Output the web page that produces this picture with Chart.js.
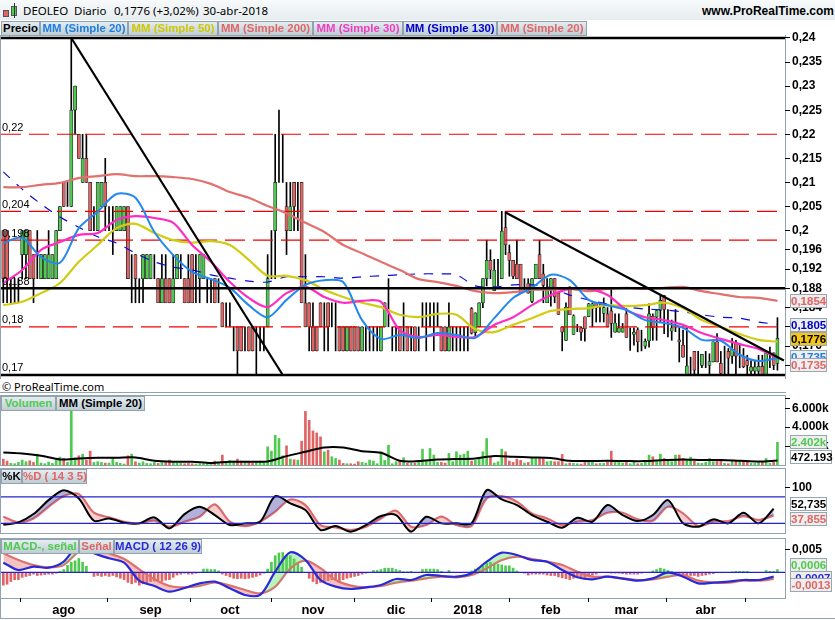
<!DOCTYPE html>
<html lang="es">
<head>
<meta charset="UTF-8" />
<title>DEOLEO Diario</title>
<script src="https://cdn.jsdelivr.net/npm/chart.js"></script>
<style>
  html, body { margin: 0; padding: 0; background: #fff; }
  body { position: relative; width: 835px; height: 620px; overflow: hidden; font-family: "Liberation Sans", Arial, sans-serif; }
  canvas { position: absolute; left: 0; }
  .abs { position: absolute; white-space: nowrap; }
  #header { left: 0; top: 0; width: 835px; height: 20px; background: linear-gradient(#f8fafb, #e6ecef); }
  .htxt { top: 3px; font: 11.5px "Noto Sans", sans-serif; color: #000; }
  .frame { border: 1px solid #93a3ad; box-sizing: border-box; left: 0; width: 786px; }
  .tab { height: 15px; box-sizing: border-box; border: 1px solid #93a3ad; background: linear-gradient(#e4edf1, #bfcdd5); font: bold 11.4px/13px "Liberation Sans", sans-serif; text-align: center; z-index: 5; }
  .tag { left: 790px; width: 37px; height: 14px; box-sizing: border-box; border: 1px solid #98a8b2; background: #eeeeee; font: bold 11.5px/12px "Liberation Sans", sans-serif; text-align: center; z-index: 6; }
</style>
</head>
<body>
<div id="header" class="abs"></div>
<div class="abs" style="left:3px;top:10px;width:6px;height:7px;background:#e06464;border:1px solid #555;box-sizing:border-box"></div>
<div class="abs" style="left:11px;top:6px;width:6px;height:10px;background:#4fc94f;border:1px solid #555;box-sizing:border-box"></div>
<div class="abs" style="left:13.5px;top:3px;width:1px;height:15px;background:#333"></div>
<div class="abs htxt" style="left:23px">DEOLEO</div>
<div class="abs htxt" style="left:74px">Diario</div>
<div class="abs htxt" style="left:114px">0,1776 (+3,02%)</div>
<div class="abs htxt" style="left:203px">30-abr-2018</div>
<div class="abs" style="left:702px;top:4px;font:bold 12px 'Liberation Sans',sans-serif">www.ProRealTime.com</div>
<div class="abs" style="left:2px;top:379px;font:11px 'Noto Sans',sans-serif">© ProRealTime.com</div>

<div class="abs frame" style="top:35px;height:344px;border-top:none;border-bottom:none"></div>
<div class="abs" style="left:0;top:392px;width:786px;height:1px;background:#93a3ad"></div>
<div class="abs frame" style="top:395px;height:71px"></div>
<div class="abs frame" style="top:468px;height:66px"></div>
<div class="abs frame" style="top:538px;height:61px"></div>
<div class="abs" style="left:0;top:618px;width:835px;height:1px;background:#93a3ad"></div>
<div class="abs" style="left:0;top:598px;width:1px;height:21px;background:#93a3ad"></div>

<canvas id="precio" width="835" height="350" style="top:28px"></canvas>
<canvas id="volumen" width="835" height="71" style="top:395px"></canvas>
<canvas id="esto" width="835" height="66" style="top:468px"></canvas>
<canvas id="macd" width="835" height="81" style="top:538px"></canvas>

<script>
// precios en milésimas de euro
const open = [200,200,190,190,190,195,195,200,195,195, 190,190,190,190,190,200,210,205,205,225,
  220,210,215,210,200,200,205,210,205,205, 200,200,200,205,195,195,190,190,190,190,
  195,190,185,190,190,185,190,190,190,190, 195,190,190,190,190,190,190,190,185,185,
  185,180,180,180,180,180,180,180,180,180, 180,200,200,210,210,205,200,210,205,210,
  185,185,180,180,185,180,185,185,180,180, 180,175,180,180,180,175,180,180,180,180,
  175,180,180,180,180,180,180,180,180,180, 180,180,180,185,180,185,180,180,175,180,
  180,180,180,180,183.8,178.8,180,185,190,193.8, 187.5,188.5,190,200.6,195.4,193.8,193,193,189,189,
  185.3,190,195,191,185,188,190,187,180,177.2, 188.3,178.4,180,179.8,182.1,182.1,183.8,185,184,182.8,
  182.7,183.3,178.9,178.9,178.9,182.7,178.6,178.4,179.4,178.5, 176,177.1,182.2,182,183.4,186.5,179.5,179.1,180,177.3,
  176.2,170,172,174.9,171,172,174,172,172.7,176.9, 172.4,173.5,174.9,173.9,176.8,175,173.9,173,170.8,170.8,
  170.8,171.8,170,173,174.6,172.4];
const close = [190,190,190,190,190,200,200,190,190,195, 195,195,195,195,200,205,205,205,225,230,
  215,215,210,200,200,210,210,205,205,205, 205,205,205,190,195,190,190,195,195,195,
  195,185,190,185,185,190,195,190,185,185, 185,190,195,195,190,190,185,190,180,185,
  185,180,175,175,180,175,175,180,180,180, 190,200,210,210,210,200,205,205,205,185,
  180,180,175,175,180,180,180,185,180,175, 175,180,175,175,175,180,180,180,180,180,
  180,185,180,180,180,175,180,175,180,175, 180,180,180,185,180,185,175,175,180,180,
  180,180,180,180,178.7,182.9,185,190,193.8,191.8, 191.8,188.5,199.9,197,193.8,190.5,190,187,189,187,
  190,193,190,188.6,188,190,186.2,182.6,178.9,184.1, 182.5,182.3,180,178.9,179.6,184.8,184.8,184,184,184,
  180,180.7,180.8,179.8,179.8,177.8,178.6,178.9,176.9,178.5, 177,182.7,179.8,183.4,185.5,183.6,179.5,179.8,180,176.9,
  173.7,171.9,172,171,171,174.3,174,172.8,176.9,172.7, 170.3,173.5,173.5,175.3,173.9,175,171.7,172,171.7,171.7,
  171.8,170,174.6,173,172,177.6];
const high = [200,200,190,190,190,200,200,200,195,200, 195,195,200,195,200,205,210,210,240,230,
  220,220,220,210,205,210,210,215,205,205, 205,205,205,205,195,195,190,195,195,195,
  195,190,195,195,190,195,195,195,190,195, 195,195,195,195,190,190,190,190,185,185,
  185,180,180,180,180,180,180,180,180,180, 195,200,220,225,220,210,210,210,210,210,
  195,185,185,180,185,185,185,185,185,180, 180,180,180,180,180,180,180,180,180,180,
  180,185,190,180,180,180,185,180,180,180, 180,185,185,185,185,185,180,180,185,180,
  180,180,180,180,184,182.9,185,190,198,196, 194,194,204,204,197,193.8,198,193,190,190,
  190,193,198,193,190,190,190,187,180,185, 188.3,182.5,180.5,180,182.1,184.9,185,185,185,186,
  184,188,182.7,182.7,180.7,183.8,179.8,179.8,179.8,179.3, 177.5,184.8,182.7,183.4,186.5,186.5,183.6,181.4,183.6,179.8,
  179.3,179.8,173.7,174.9,174.9,174.3,174.9,174.4,176.9,178.6, 174.9,176,175.5,177.6,177.2,176.5,175.5,174.1,173,173,
  174.1,174.1,175.1,175.8,174.6,181.9];
const low = [185,185,185,185,185,190,190,190,185,190, 190,190,190,190,190,200,205,205,205,220,
  215,210,210,200,200,200,205,200,200,195, 200,200,200,190,185,185,185,185,190,190,
  190,185,185,185,185,185,190,190,185,185, 185,185,185,190,185,185,185,185,180,180,
  180,175,170,175,175,175,175,170,175,175, 180,190,190,210,210,195,200,200,200,185,
  180,175,175,175,180,175,175,180,175,175, 175,175,175,175,175,175,175,175,175,175,
  175,180,180,175,175,175,175,175,175,175, 175,180,175,180,175,180,175,175,175,175,
  175,175,175,175,178.5,177.8,180,184,188.5,190, 187.5,188.5,190,195,190.5,190,190,187,187.5,187,
  185,190,190,185,185,184.3,185,182.6,175,177.2, 182.5,178.4,179,177.2,177,182.1,180,181,181,181,
  180,177.8,178.9,178.9,178.9,177.8,175.1,176.2,174.8,175, 175.5,175.8,177.2,177.2,181,178.6,177.9,177.2,179,172.7,
  173.7,170,170,170,170,171.5,171.5,170,172.7,172.7, 170,170,170,172.4,170,171.5,171.5,170,170,170,
  170,170,170,171.5,171.1,171];

// medias móviles leídas cada 5 sesiones
const maStep = 5;
const mm20 = [197.4,198.5,194.5,193.3,200.5,203.9,207.6,206.8,199.7,194.9,191.4,189.9,188.1,184.5,182,185.6,188.7,189.7,189.3,181.4,177.5,178.3,177.7,178.7,178.3,177.7,181.8,186,188.1,190.8,189.7,185.6,184.5,183.5,181.4,180.8,179.8,177.3,177.1,174.2,172.9,173.5];
const mm50 = [184.5,185.2,187,189.1,193.5,197,200.5,201.4,199.5,198,197.5,197.8,197,193.9,190.6,190.6,189.7,187.7,186.2,185,184.1,182.5,182,182.7,182.5,179.5,178.9,180.4,181.8,183.3,183.7,183.9,184.5,184.3,184.5,185,183.9,181.4,180,178.5,177.3,176.9];
const mm200 = [209,209,209.5,209.9,210.9,211.3,211.7,211.3,211.3,211.1,210.7,209.7,208,206.8,205.1,203.6,201.6,199.7,197,195.3,193.5,191.8,189.9,189.3,188.5,187.4,187,187.2,187.7,187.7,187.9,187.4,187.9,188.1,187.9,188.1,188.3,187.4,186.8,186.2,186,185.4];
const mm30 = [189.1,191.8,196,197.6,199.1,199.5,202.2,203,202.6,201.6,197,193.5,189.3,186,184.1,187,188.3,186.2,185,185.4,185.2,179.3,177.9,178.3,177.9,177.9,180.4,182,184.5,186.6,187.9,187.9,186.6,183.5,182,181.4,180.4,178.7,177.5,176.4,175.4,173.5];
const mm130 = [212.2,208.6,205.5,202.8,200.7,198.7,197.4,195.3,193.5,192.4,191.8,190.8,190.1,189.5,189.3,190.4,190.4,190.4,190.1,190.4,190.6,190.8,191,191,190.8,188.5,188.3,188.7,188.7,188.1,186.6,185.6,184.7,184.1,183.7,183.5,183.1,182.5,182,181.8,181,180.5];

const levelsDashed = [220, 204, 198, 180];
const levelsSolid = [240, 188, 170];
const levelLabels = [[240,'0,24'],[220,'0,22'],[204,'0,204'],[198,'0,198'],[188,'0,188'],[180,'0,18'],[170,'0,17']];
const trendA = [[18, 240], [74, 170]];
const trendB = [[132.9, 203.8], [206.7, 173]];
const priceTicks = [240,235,230,225,220,215,210,205,200,196,192,188,184,180,176,172];

// volumen en miles de títulos
const volume = [630,420,175,140,280,525,350,455,280,1155, 210,140,315,175,490,840,700,280,5775,770,
  980,1155,525,1470,280,350,280,210,210,770, 280,175,105,980,1155,350,210,350,175,140,
  280,175,280,280,525,210,210,175,140,175, 140,105,140,140,210,105,420,175,1050,280,
  490,420,630,420,280,350,210,350,420,280, 1925,1470,3150,2800,980,2030,630,560,525,2520,
  5670,4725,3605,3395,2975,1400,1575,875,700,525, 175,140,140,105,350,280,210,525,420,140,
  1400,490,2100,140,350,490,770,175,175,210, 350,
  1680,420,1750,1050,280,280,210,1225,350,1400, 1050,1155,1470,420,490,700,1400,2800,875,210,
  350,1680,1400,420,280,630,490,210,280,700, 700,700,700,350,420,350,350,1120,140,210,
  175,140,105,280,350,350,140,175,175,350, 1470,280,280,210,490,140,350,140,175,420,
  1050,875,350,1155,700,490,350,1050,1050,700, 490,840,420,210,175,280,700,350,525,525,
  175,140,420,420,420,420,420,175,175,280, 280,700,175,280,2402];
const volumeMA = [1330,1225,980,595,700,770,770,805,455,350,350,210,350,350,385,945,1400,1855,1855,1470,1295,455,420,595,630,700,945,875,805,735,455,420,455,420,420,525,595,525,525,455,385,472];
const volumeTicks = [7000,6000,4000,2000];
const volumeLabels = { 6000: '6.000k', 4000: '4.000k', 2000: '2.000k' };

// estocástico leído cada 4 sesiones
const oscStep = 4;
const stochK = [17,22.2,41,72.5,95,76.3,26,31.2,21.5,20,33.5,8.7,41,57.5,38.8,16.2,20,23.7,81.5,65,50,5,14,1.2,16.2,36.5,38.8,1.2,35,20,20,20,95,74,61.3,38.8,23.7,10.2,32.7,23.7,61.3,38.8,25.2,38.8,72.5,20,12.5,29,20,44,20,53];
const stochD = [35,22.2,31.2,57.5,81.5,86,44,33.5,23.7,20,26,12.5,23.7,35,62.8,23.7,14,23.7,46.3,74,61.3,16.2,11,5,12.5,31.2,48.5,12.5,16.2,35,16.2,14,76.3,81.5,68.8,42.5,31.2,16.2,23.7,27.5,44,44,29,26,57.5,42.5,14,23.7,25.2,36.5,27.5,38];
const stochBands = [80, 20];

// MACD en milésimas, histograma en diezmilésimas
const macdLine = [2.1,.5,1.23,1,2.31,5.94,4.13,3.04,2.1,-1.82,-2.98,-4.21,-3.41,-2.4,-2.03,-3.48,-4.93,-4.93,.14,4.34,2.68,-1.67,-3.12,-3.63,-3.27,-2.76,-1.45,-1.67,-.58,-.8,-.95,-.22,2.31,4.27,3.76,2.68,2.31,.5,-1.09,-1.53,-.95,-1.38,-1.82,-1.31,-.08,-.95,-2.4,-2.25,-2.03,-1.67,-1.67,-.95];
const macdSignal = [4.13,2.68,1.59,1.08,1.59,4.49,5.57,4.13,2.89,.65,-1.53,-2.98,-3.27,-2.98,-2.18,-2.9,-3.85,-4.57,-3.12,.87,2.53,.87,-1.67,-2.9,-3.27,-2.98,-2.25,-1.82,-1.31,-.95,-1.09,-.58,.87,2.68,3.4,2.89,2.31,1.59,.14,-.95,-.95,-1.31,-1.67,-1.53,-.95,-.58,-1.82,-2.25,-2.25,-1.82,-1.82,-1.45];
const macdHist = [-28,-26,-20,-16,-16,-11,-9,-7,-4,-7,-6,-5,-4,-4,-2, 2,6,15,22,25,30,22,13, 0,-9,-7,-9,-7,-9,-7,-10,-13,-16,-22,
  -25,-22,-28,-25,-23,-20,-19,-17,-20,-17,-16,-11, -6,-4,-2,-4,-4,-2,0, 7,7,6,6,3, -4,-7,-10,-13,-14,-13,-14,-13,-11,-9,-6,-2,
  7,22,36,42,43,36,36,29,22,11,0, -13,-20,-25,-22,-22,-18,-16,-14,-18,-16,-13,-11,-9,-7,-4,-2,0, 4,4,6,9,9,9,6,4,1,1,2,0,-1,
  6,7,7,7,6,2,0,4, 0,-1,-1,-1,0, 3,7,9,14,20,22,20,18,16,14,14,9,3,0,
  -2,-6,-4,-4,-4,-4,-6,-7,-7,-10,-12,-14,-16,-13,-11,-10,-13,-9,-6,-4,-1,0,-1, -2,-2,-2,-3,-4,-4,-4,-4,-2,0,
  0,3,6,9,7,4,2,0, -4,-7,-7,-7,-7,-9,-7,-6,-4,-3,-1,-1,0,0, 1,2,2,2,2,0,0,0,0,4,2,2,6];

const monthIdx = [16, 39, 60, 82, 104, 123, 145, 165, 186];
const monthNames = ['ago', 'sep', 'oct', 'nov', 'dic', '2018', 'feb', 'mar', 'abr'];

const tabs = [
  [1,21,39,'Precio','#000'],[40,21,88,'MM (Simple 20)','#1e7de0'],[128,21,90,'MM (Simple 50)','#cfc800'],
  [218,21,95,'MM (Simple 200)','#e06666'],[313,21,90,'MM (Simple 30)','#f23cc0'],[403,21,94,'MM (Simple 130)','#0000c8'],[497,21,90,'MM (Simple 20)','#e06666'],
  [1,396,55,'Volumen','#4fc94f'],[56,396,89,'MM (Simple 20)','#000'],
  [1,469,21,'%K','#000'],[22,469,65,'%D ( 14 3 5)','#e06666'],
  [1,539,78,'MACD-, señal','#4fc94f'],[79,539,35,'Señal','#e06666'],[114,539,88,'MACD ( 12 26 9)','#2a2ad8']
];
const tags = [
  ['0,1854',294,'#e06666','#eee'],['0,1805',318,'#0000c8','#eee'],['0,1776',332,'#000','#f5c518'],['0,1735',350,'#1e7de0','#eee'],['0,1735',358,'#e06666','#eee'],
  ['2.402k',435,'#4fc94f','#eee'],['472.193',450,'#000','#fff'],
  ['52,735',497,'#000','#fff'],['37,855',512,'#e06666','#eee'],
  ['0,0006',558,'#4fc94f','#eee'],['-0,0007',571,'#2a2ad8','#eee'],['-0,0013',578,'#e06666','#eee']
];

tabs.forEach(t => {
  const d = document.createElement('div');
  d.className = 'abs tab';
  d.style.cssText = `left:${t[0]}px;top:${t[1]}px;width:${t[2]}px;color:${t[4]}`;
  d.textContent = t[3];
  document.body.appendChild(d);
});
tags.forEach(t => {
  const d = document.createElement('div');
  d.className = 'abs tag';
  d.style.cssText = `top:${t[1]}px;color:${t[2]};background:${t[3]}` + (t[0].length > 6 ? ';width:42px' : '');
  d.textContent = t[0];
  document.body.appendChild(d);
});

const GREEN = '#4fc94f', RED = '#e06464';
const xMin = -0.61, xMax = 207;
const up = open.map((o, i) => close[i] >= o);

function sampled(values, step) { return values.map((v, k) => ({ x: k * step, y: v })); }
function lineSet(data, color, width, order, extra) {
  return Object.assign({ type: 'line', data, borderColor: color, backgroundColor: color, borderWidth: width, pointRadius: 0, order, tension: 0.3 }, extra || {});
}
function flat(y, color, width, order, dash) {
  return lineSet([{ x: xMin, y }, { x: xMax, y }], color, width, order, { borderDash: dash || [], tension: 0 });
}
function pairs(p) { return p.map(a => ({ x: a[0], y: a[1] })); }
function noPad(s) { s.paddingTop = 0; s.paddingBottom = 0; s.paddingLeft = 0; s.paddingRight = 0; }

function yAxis(min, max, ticks, fmt) {
  return {
    position: 'right', min, max,
    afterFit: s => { s.width = 50; noPad(s); },
    afterBuildTicks: s => { s.ticks = ticks.map(v => ({ value: v })); },
    border: { display: false },
    grid: { drawOnChartArea: false, drawTicks: true, tickLength: 5, tickColor: '#000' },
    ticks: { autoSkip: false, padding: 2, color: '#000', font: { family: 'Liberation Sans', size: 12, weight: 'bold' }, callback: fmt }
  };
}
function xAxis(visible) {
  return {
    type: 'linear', min: xMin, max: xMax, display: visible, offset: false,
    afterFit: s => { s.height = visible ? 21 : 0; noPad(s); },
    afterBuildTicks: s => { s.ticks = monthIdx.map(v => ({ value: v })); },
    border: { display: false },
    grid: { drawOnChartArea: false, drawTicks: true, tickLength: 4, tickColor: '#000' },
    ticks: { autoSkip: false, maxRotation: 0, padding: 1, color: '#000', font: { family: 'Liberation Sans', size: 13, weight: 'bold' },
      callback: v => monthNames[monthIdx.indexOf(v)] || '' }
  };
}
function baseOptions(y, showX, top) {
  return {
    responsive: false, animation: false, events: [],
    layout: { padding: { left: 1, right: 0, top: top || 0, bottom: 0 } },
    plugins: { legend: { display: false }, tooltip: { enabled: false } },
    scales: { x: xAxis(!!showX), y }
  };
}
const barBase = { type: 'bar', grouped: false, barPercentage: 1, categoryPercentage: 1 };

const levelText = {
  id: 'levelText',
  afterDatasetsDraw(chart) {
    const c = chart.ctx, s = chart.scales.y;
    c.save();
    c.font = '11px "Liberation Sans"';
    c.fillStyle = '#000';
    c.textBaseline = 'bottom';
    levelLabels.forEach(l => c.fillText(l[1], 2, s.getPixelForValue(l[0]) - 1));
    c.restore();
  }
};

// panel de precios
new Chart(document.getElementById('precio'), {
  type: 'bar',
  data: { datasets: [
    Object.assign({}, barBase, { data: open.map((o, i) => ({ x: i, y: [low[i], high[i]] })), backgroundColor: '#000', maxBarThickness: 1, order: 20 }),
    Object.assign({}, barBase, { data: open.map((o, i) => ({ x: i, y: [o, close[i]] })), backgroundColor: up.map(u => u ? GREEN : RED), borderColor: '#222', borderWidth: 0.7, borderSkipped: false, maxBarThickness: 3.2, order: 19 }),
    ...levelsDashed.map(v => flat(v, '#f00000', 1.2, 15, [20, 8])),
    lineSet(sampled(mm130, maStep), '#0a0ad8', 1.2, 12, { borderDash: [9, 9] }),
    lineSet(sampled(mm200, maStep), '#e2706c', 2.2, 11),
    lineSet(sampled(mm50, maStep), '#d2cb14', 2.2, 10),
    lineSet(sampled(mm30, maStep), '#ff2cc4', 2.2, 9),
    lineSet(sampled(mm20, maStep), '#2288ee', 2, 8),
    ...levelsSolid.map(v => flat(v, '#000', 2.4, 3)),
    lineSet(pairs(trendA), '#000', 2.2, 2, { tension: 0 }),
    lineSet(pairs(trendB), '#000', 2.2, 2, { tension: 0 })
  ] },
  options: baseOptions(yAxis(169.37, 240.62, priceTicks, v => String(v / 1000).replace('.', ',')), false, 7),
  plugins: [levelText]
});

// volumen
new Chart(document.getElementById('volumen'), {
  type: 'bar',
  data: { datasets: [
    Object.assign({}, barBase, { data: volume.map((v, i) => ({ x: i, y: v })), backgroundColor: up.map(u => u ? GREEN : RED), maxBarThickness: 2, order: 5 }),
    lineSet(sampled(volumeMA, maStep), '#000', 2, 1)
  ] },
  options: baseOptions(yAxis(-100, 7400, volumeTicks, v => volumeLabels[v] || ''), false)
});

// estocástico
new Chart(document.getElementById('esto'), {
  type: 'line',
  data: { datasets: [
    lineSet(sampled(stochK, oscStep), '#000', 2, 2, { fill: { target: 1, above: 'rgba(70,70,170,.42)', below: 'rgba(232,120,120,.38)' } }),
    lineSet(sampled(stochD, oscStep), '#e06c6c', 2.2, 3),
    ...stochBands.map(v => flat(v, '#2222cc', 1.2, 1))
  ] },
  options: baseOptions(yAxis(-4, 145, [100], v => String(v)), false)
});

// MACD
new Chart(document.getElementById('macd'), {
  type: 'bar',
  data: { datasets: [
    Object.assign({}, barBase, { data: macdHist.map((v, i) => ({ x: i, y: v / 10 })), backgroundColor: macdHist.map(v => v >= 0 ? GREEN : RED), maxBarThickness: 2, order: 8 }),
    lineSet(sampled(macdLine, oscStep), '#2a2ad8', 2.2, 2, { fill: { target: 2, above: 'rgba(90,220,90,.4)', below: 'rgba(232,120,120,.45)' } }),
    lineSet(sampled(macdSignal, oscStep), '#e06c6c', 2.2, 3),
    flat(0, '#2222cc', 1.2, 1)
  ] },
  options: baseOptions(yAxis(-5.59, 7.46, [5], () => '0,005'), true)
});
</script>
</body>
</html>
